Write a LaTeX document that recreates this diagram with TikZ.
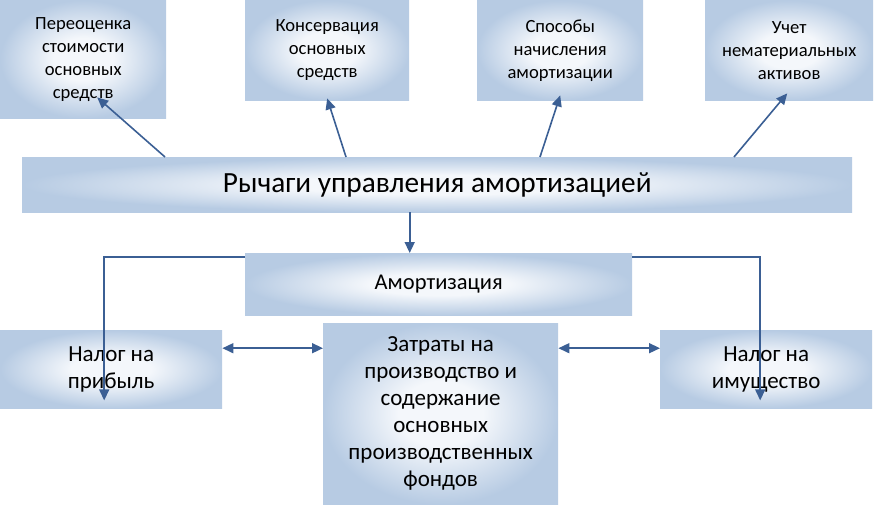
\documentclass[tikz,border=0pt]{standalone}
\usepackage{fontspec}
\setmainfont{Carlito}
\usetikzlibrary{arrows.meta,calc}

\definecolor{boxblue}{HTML}{B7CBE3}
\definecolor{boxlight}{HTML}{F4F7FB}
\definecolor{linkblue}{HTML}{3B5F94}
\pgfdeclareradialshading{glow}{\pgfpoint{0bp}{0bp}}{color(0bp)=(boxlight); color(9bp)=(boxlight); color(25bp)=(boxblue); color(50bp)=(boxblue)}

\begin{document}
\begin{tikzpicture}[
  x=1pt, y=-1pt,
  box/.style={rectangle, shading=glow, anchor=north west, inner sep=0pt, align=center, font=\fontsize{18.6}{23}\selectfont},
  lower/.style={box, font=\fontsize{23}{27}\selectfont},
  arr/.style={-{Triangle[length=11pt, width=10pt]}, line width=1.6pt, draw=linkblue},
  dbl/.style={{Triangle[length=11pt, width=10pt]}-{Triangle[length=11pt, width=10pt]}, line width=1.6pt, draw=linkblue}
]
  \useasboundingbox (0,0) rectangle (883,504);
  % top row
  \node[box, minimum width=166pt, minimum height=118pt] (reval) at (0,0) {Переоценка\\стоимости\\основных\\средств};
  \node[box, minimum width=164pt, minimum height=100pt] (conserv) at (245,0) {Консервация\\основных\\средств};
  \node[box, minimum width=166pt, minimum height=100pt] (methods) at (477,0) {Способы\\начисления\\амортизации};
  \node[box, minimum width=168pt, minimum height=100pt] (intang) at (705,0) {Учет\\нематериальных\\активов};
  % levers and amortisation
  \node[box, minimum width=830pt, minimum height=55pt, font=\fontsize{29.3}{34}\selectfont] (levers) at (22,157) {Рычаги управления амортизацией};
  \node[box, minimum width=387pt, minimum height=62pt, font=\fontsize{22.5}{26}\selectfont] (amort) at (245,253) {Амортизация};
  % bottom row
  \node[lower, minimum width=222pt, minimum height=78pt] (profit) at (0,330) {Налог на\\прибыль};
  \node[lower, minimum width=235pt, minimum height=181pt] (costs) at (323,323) {Затраты на\\производство и\\содержание\\основных\\производственных\\фондов};
  \node[lower, minimum width=212pt, minimum height=78pt] (property) at (660,330) {Налог на\\имущество};

  \draw[arr] ([xshift=143pt]levers.north west) -- ([xshift=14pt, yshift=21pt]reval.south);
  \draw[arr] ([xshift=324pt]levers.north west) -- ([xshift=-0pt, yshift=2pt]conserv.south);
  \draw[arr] ([xshift=518pt]levers.north west) -- ([yshift=5pt]methods.south);
  \draw[arr] ([xshift=712pt]levers.north west) -- ([xshift=-2pt, yshift=7pt]intang.south);
  \draw[arr] ([xshift=-29pt]amort.north |- levers.south) -- ([xshift=-29pt]amort.north);
  \draw[arr] ([yshift=-4pt]amort.north west) -| ([xshift=-7pt, yshift=8pt]profit.south);
  \draw[arr] ([yshift=-4pt]amort.north east) -| ([xshift=-6pt, yshift=8pt]property.south);
  \draw[dbl] ([yshift=21pt]profit.east) -- ([yshift=21pt]profit.east -| costs.west);
  \draw[dbl] ([yshift=21pt]property.west) -- ([yshift=21pt]property.west -| costs.east);
\end{tikzpicture}
\end{document}
